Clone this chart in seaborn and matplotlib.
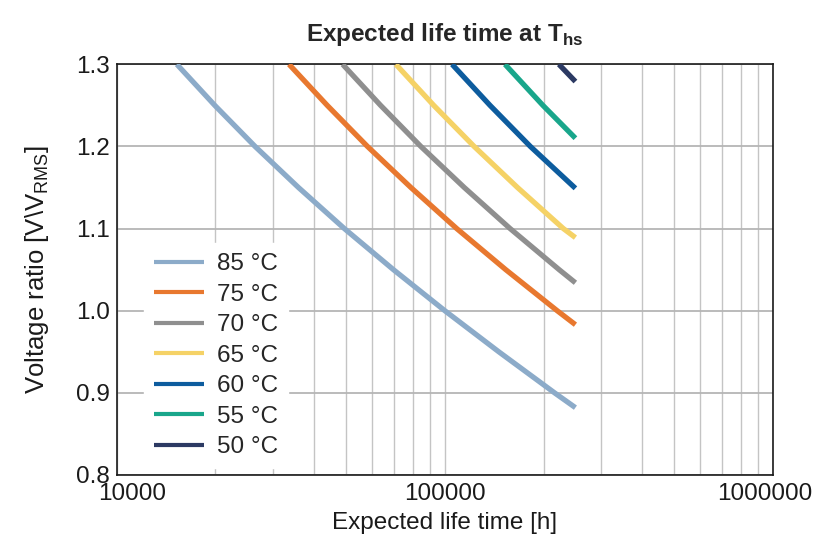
import matplotlib
matplotlib.use("Agg")
import matplotlib.pyplot as plt
import matplotlib.transforms as mtransforms
from matplotlib.ticker import LogLocator, NullFormatter
import pandas as pd
import seaborn as sns

# values
temps = ["85 °C", "75 °C", "70 °C", "65 °C", "60 °C", "55 °C", "50 °C"]

life_85 = [15250, 19900, 26400, 35800, 49400, 69700, 100000, 146000, 216000, 250000]
ratio_85 = [1.30, 1.25, 1.20, 1.15, 1.10, 1.05, 1.00, 0.95, 0.90, 0.882]

life_75 = [33500, 43800, 58100, 78800, 108700, 153300, 220000, 250000]
ratio_75 = [1.30, 1.25, 1.20, 1.15, 1.10, 1.05, 1.00, 0.983]

life_70 = [48800, 63700, 84500, 114600, 158100, 223000, 250000]
ratio_70 = [1.30, 1.25, 1.20, 1.15, 1.10, 1.05, 1.034]

life_65 = [70900, 92500, 122800, 166500, 229700, 250000]
ratio_65 = [1.30, 1.25, 1.20, 1.15, 1.10, 1.089]

life_60 = [105200, 137300, 182200, 250000]
ratio_60 = [1.30, 1.25, 1.20, 1.149]

life_55 = [152500, 199000, 250000]
ratio_55 = [1.30, 1.25, 1.21]

life_50 = [222600, 250000]
ratio_50 = [1.30, 1.279]

colors = ["#8cabc9", "#e8782f", "#8f8f8f", "#f5d266", "#0d5c9e", "#19a68b", "#2c3a63"]

curves = [(life_85, ratio_85), (life_75, ratio_75), (life_70, ratio_70), (life_65, ratio_65),
          (life_60, ratio_60), (life_55, ratio_55), (life_50, ratio_50)]

frames = []
for temp, (life, ratio) in zip(temps, curves):
    frames.append(pd.DataFrame({"life": life, "ratio": ratio, "temp": temp}))
df = pd.concat(frames, ignore_index=True)

sns.set_style("white")
plt.rcParams["font.family"] = ["Liberation Sans", "DejaVu Sans"]
plt.rcParams["mathtext.fontset"] = "custom"
plt.rcParams["mathtext.rm"] = "Liberation Sans"
plt.rcParams["mathtext.bf"] = "Liberation Sans:bold"
plt.rcParams["lines.solid_capstyle"] = "butt"

fig = plt.figure(figsize=(8.26, 5.49), dpi=100)
ax = fig.add_axes([0.1413, 0.1348, 0.7945, 0.7481])

sns.lineplot(data=df, x="life", y="ratio", hue="temp", hue_order=temps,
             palette=dict(zip(temps, colors)), estimator=None, sort=False,
             linewidth=3.8, ax=ax, zorder=3)

ax.set_xscale("log")
ax.set_xlim(1e4, 1e6)
ax.set_ylim(0.8, 1.3)

ax.set_xticks([1e4, 1e5, 1e6], labels=["10000", "100000", "1000000"])
ax.xaxis.set_minor_locator(LogLocator(base=10, subs=range(2, 10)))
ax.xaxis.set_minor_formatter(NullFormatter())
ax.set_yticks([0.8, 0.9, 1.0, 1.1, 1.2, 1.3], labels=["0.8", "0.9", "1.0", "1.1", "1.2", "1.3"])

ax.grid(True, axis="x", which="both", color="#c4c4c4", linewidth=1.0, zorder=0)
ax.grid(True, axis="y", which="major", color="#b5b5b5", linewidth=1.3, zorder=0)
ax.tick_params(axis="both", which="both", length=0, labelsize=17.5, colors="#1a1a1a")
ax.tick_params(axis="x", pad=6)
ax.tick_params(axis="y", pad=5)

for spine in ax.spines.values():
    spine.set_visible(True)
    spine.set_color("#1a1a1a")
    spine.set_linewidth(1.2)

ax.set_xlabel("Expected life time [h]", fontsize=17.5, color="#1a1a1a", labelpad=5)
ax.set_ylabel(r"Voltage ratio [$\mathrm{V}\backslash\mathrm{V}_{\mathrm{RMS}}$]",
              fontsize=18.5, color="#1a1a1a", labelpad=18)
ax.set_title(r"Expected life time at $\mathbf{T}_{\mathbf{hs}}$", fontsize=17.5,
             fontweight="bold", pad=17)

handles, labels = ax.get_legend_handles_labels()
leg = ax.legend(handles, labels, loc="lower left", bbox_to_anchor=(0.0416, 0.017),
                borderaxespad=0, borderpad=0.4, frameon=True, fancybox=False,
                facecolor="white", edgecolor="white", framealpha=1,
                fontsize=17.5, handlelength=2.08, handletextpad=0.52, labelspacing=0.35)
for line in leg.get_lines():
    line.set_linewidth(3.0)
leg.set_zorder(5)

# edge labels sit slightly inside the axes in the reference
xlabels = ax.get_xticklabels()
xlabels[0].set_transform(xlabels[0].get_transform() +
                         mtransforms.ScaledTranslation(15 / 100, 0, fig.dpi_scale_trans))
xlabels[-1].set_transform(xlabels[-1].get_transform() +
                          mtransforms.ScaledTranslation(-8 / 100, 0, fig.dpi_scale_trans))

plt.savefig("out.png", dpi=100)
